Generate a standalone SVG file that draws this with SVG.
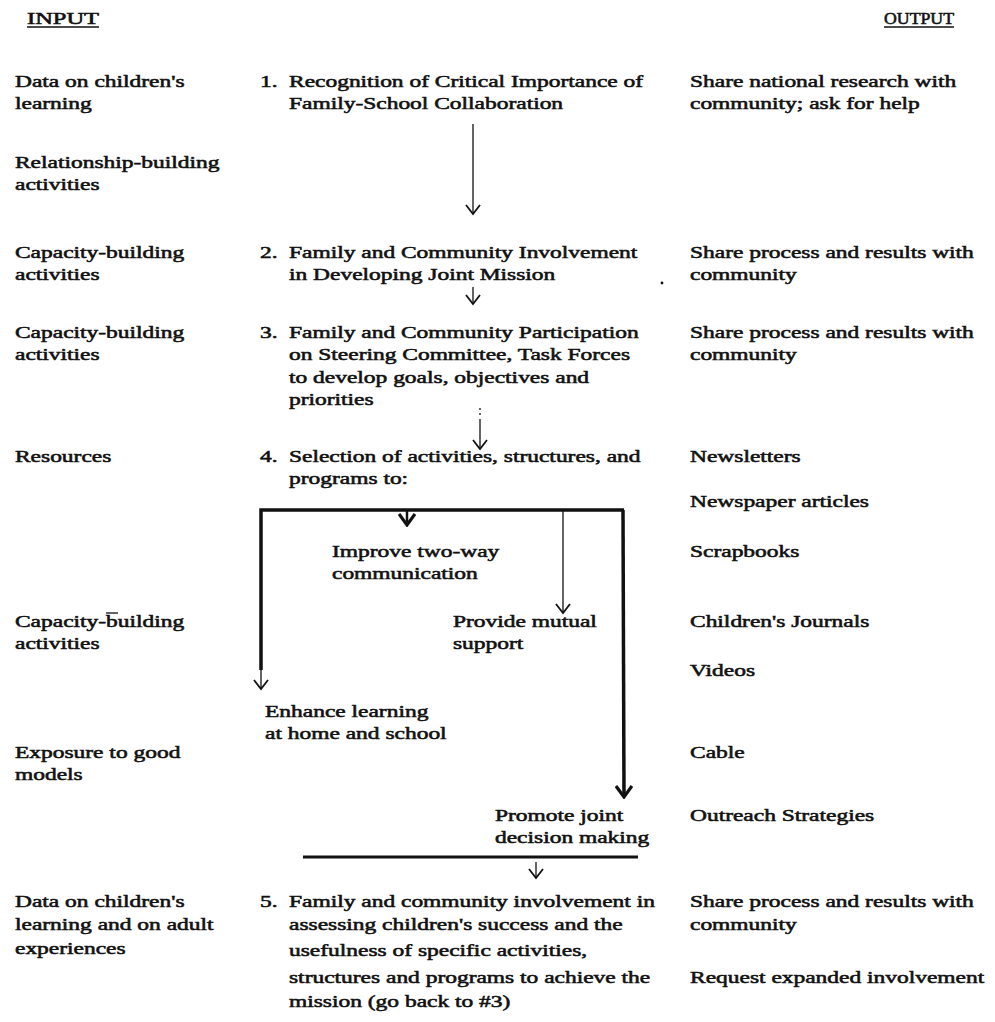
<svg xmlns="http://www.w3.org/2000/svg" width="995" height="1022" viewBox="0 0 995 1022">
<style>
text{font-family:"Liberation Serif","Times New Roman",serif;font-size:17px;fill:#111;stroke:#111;stroke-width:0.55;transform-box:fill-box;transform-origin:0 50%;transform:scaleX(1.38)}
text.h{transform:none;font-size:16px}
.thin{stroke:#111;stroke-width:1.3;fill:none}
.thick{stroke:#111;stroke-width:3.5;fill:none}
.med{stroke:#111;stroke-width:2.5;fill:none}
</style>
<defs>
<marker id="v" markerUnits="userSpaceOnUse" markerWidth="12" markerHeight="16" refX="10" refY="8" orient="auto" viewBox="0 0 12 16">
<path d="M1,1 L10,8 L1,15" fill="none" stroke="#111" stroke-width="1.8"/>
</marker>
<marker id="vb" markerUnits="userSpaceOnUse" markerWidth="14" markerHeight="18" refX="12" refY="9" orient="auto" viewBox="0 0 14 18">
<path d="M1,1 L12,9 L1,17" fill="none" stroke="#111" stroke-width="3.2"/>
</marker>
</defs>
<rect width="995" height="1022" fill="#fff"/>

<g id="headers">
<text class="h" x="27" y="24" textLength="72" lengthAdjust="spacingAndGlyphs">INPUT</text>
<line x1="27" y1="27" x2="99" y2="27" stroke="#111" stroke-width="1.3"/>
<text class="h" x="884" y="24" textLength="70" lengthAdjust="spacingAndGlyphs">OUTPUT</text>
<line x1="884" y1="27" x2="954" y2="27" stroke="#111" stroke-width="1.3"/>
</g>

<g id="inputs">
<text x="15" y="87">Data on children's</text>
<text x="15" y="109">learning</text>
<text x="15" y="168">Relationship-building</text>
<text x="15" y="190">activities</text>
<text x="15" y="258">Capacity-building</text>
<text x="15" y="280">activities</text>
<text x="15" y="338">Capacity-building</text>
<text x="15" y="360">activities</text>
<text x="15" y="462">Resources</text>
<text x="15" y="627">Capacity-building</text>
<line x1="106" y1="613" x2="118" y2="613" stroke="#111" stroke-width="1.3"/>
<text x="15" y="649">activities</text>
<text x="15" y="758">Exposure to good</text>
<text x="15" y="780">models</text>
<text x="15" y="907">Data on children's</text>
<text x="15" y="930">learning and on adult</text>
<text x="15" y="954">experiences</text>
</g>

<g id="step1">
<text x="260" y="87">1.</text>
<text x="289" y="87">Recognition of Critical Importance of</text>
<text x="289" y="109">Family-School Collaboration</text>
</g>
<g id="step2">
<text x="260" y="258">2.</text>
<text x="289" y="258">Family and Community Involvement</text>
<text x="289" y="280">in Developing Joint Mission</text>
</g>
<g id="step3">
<text x="260" y="338">3.</text>
<text x="289" y="338">Family and Community Participation</text>
<text x="289" y="360">on Steering Committee, Task Forces</text>
<text x="289" y="383">to develop goals, objectives and</text>
<text x="289" y="405">priorities</text>
</g>
<g id="step4">
<text x="260" y="462">4.</text>
<text x="289" y="462">Selection of activities, structures, and</text>
<text x="289" y="484">programs to:</text>
</g>
<g id="improve">
<text x="332" y="557">Improve two-way</text>
<text x="332" y="579">communication</text>
</g>
<g id="support">
<text x="453" y="627">Provide mutual</text>
<text x="453" y="649">support</text>
</g>
<g id="enhance">
<text x="265" y="717">Enhance learning</text>
<text x="265" y="739">at home and school</text>
</g>
<g id="promote">
<text x="495" y="821">Promote joint</text>
<text x="495" y="843">decision making</text>
</g>
<g id="step5">
<text x="260" y="907">5.</text>
<text x="289" y="907">Family and community involvement in</text>
<text x="289" y="930">assessing children's success and the</text>
<text x="289" y="956">usefulness of specific activities,</text>
<text x="289" y="983">structures and programs to achieve the</text>
<text x="289" y="1007">mission (go back to #3)</text>
</g>

<g id="outputs">
<text x="690" y="87">Share national research with</text>
<text x="690" y="109">community; ask for help</text>
<text x="690" y="258">Share process and results with</text>
<text x="690" y="280">community</text>
<text x="690" y="338">Share process and results with</text>
<text x="690" y="360">community</text>
<text x="690" y="462">Newsletters</text>
<text x="690" y="507">Newspaper articles</text>
<text x="690" y="557">Scrapbooks</text>
<text x="690" y="627">Children's Journals</text>
<text x="690" y="676">Videos</text>
<text x="690" y="758">Cable</text>
<text x="690" y="821">Outreach Strategies</text>
<text x="690" y="907">Share process and results with</text>
<text x="690" y="930">community</text>
<text x="690" y="983">Request expanded involvement</text>
</g>

<g id="connectors">
<line class="thin" x1="473" y1="124" x2="473" y2="214" marker-end="url(#v)"/>
<line class="thin" x1="473" y1="287" x2="473" y2="304" marker-end="url(#v)"/>
<line class="thin" x1="480" y1="408" x2="480" y2="416" stroke-dasharray="2 3"/>
<line class="thin" x1="480" y1="419" x2="480" y2="449" marker-end="url(#v)"/>
<polyline class="thick" points="261,670 261,510 624,510"/>
<line class="thin" x1="261" y1="665" x2="261" y2="689" marker-end="url(#v)"/>
<line class="med" x1="407" y1="510" x2="407" y2="525" marker-end="url(#vb)"/>
<line class="thin" x1="563" y1="510" x2="563" y2="613" marker-end="url(#v)"/>
<line class="thick" x1="623" y1="510" x2="624" y2="797" marker-end="url(#vb)"/>
<line x1="303" y1="857" x2="638" y2="857" stroke="#111" stroke-width="3"/>
<line class="thin" x1="536" y1="862" x2="536" y2="878" marker-end="url(#v)"/>
</g>
<circle cx="662" cy="283" r="1.4" fill="#111"/>
</svg>
